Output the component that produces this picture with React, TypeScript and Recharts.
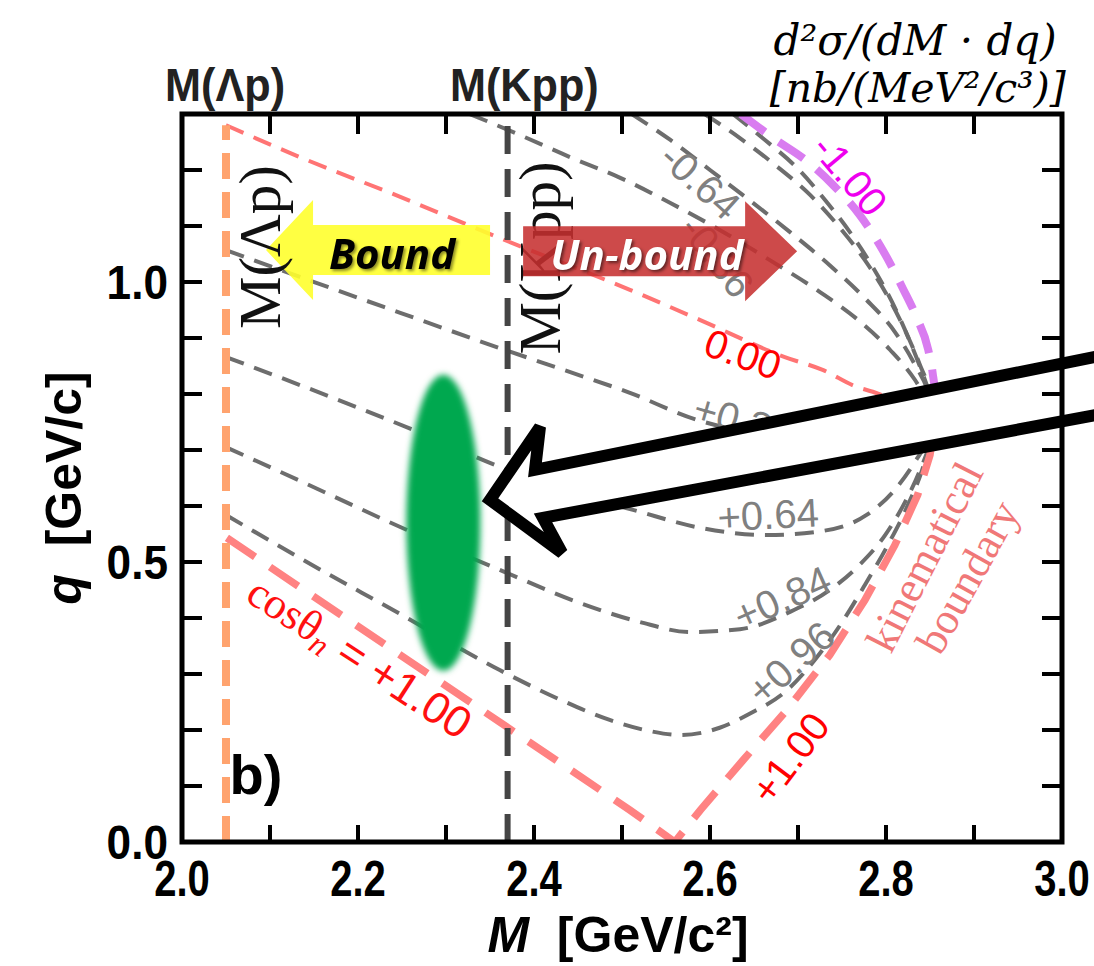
import React from 'react';
import {
  ComposedChart,
  Line,
  XAxis,
  YAxis,
  ReferenceArea,
  ReferenceDot,
  ReferenceLine,
} from 'recharts';

const CHART_W = 1094;
const CHART_H = 966;
const PLOT_W = 880;
const PLOT_H = 728;

const X_TICKS = [2.0, 2.1, 2.2, 2.3, 2.4, 2.5, 2.6, 2.7, 2.8, 2.9, 3.0];
const X_LABELS = ['2.0', '2.2', '2.4', '2.6', '2.8', '3.0'];
const Y_TICKS = [0, 0.1, 0.2, 0.3, 0.4, 0.5, 0.6, 0.7, 0.8, 0.9, 1.0, 1.1, 1.2];
const Y_LABELS = ['0.0', '0.5', '1.0'];

// thresholds (GeV/c^2)
const M_LAMBDA_P = 2.05;
const M_KPP = 2.37;
const Q_LAMBDA_P_TOP = 1.28;

// iso-cos(theta_n) contours, M in GeV/c^2, q in GeV/c
const P100_M = [2.051, 2.282, 2.509, 2.56, 2.589, 2.6375, 2.6875, 2.736, 2.776, 2.81, 2.836, 2.85, 2.856];
const P100_Q = [0.543, 0.298, 0.057, 0, 0.057, 0.146, 0.236, 0.334, 0.432, 0.53, 0.62, 0.691, 0.761];

const P096_M = [2.05, 2.134, 2.248, 2.361, 2.43, 2.486, 2.532, 2.566, 2.611, 2.645, 2.6875, 2.719, 2.748, 2.776, 2.802, 2.825, 2.841, 2.851, 2.856];
const P096_Q = [0.584, 0.507, 0.407, 0.307, 0.254, 0.218, 0.198, 0.191, 0.204, 0.229, 0.271, 0.325, 0.3875, 0.459, 0.53, 0.602, 0.664, 0.718, 0.761];

const P084_M = [2.05, 2.134, 2.248, 2.361, 2.452, 2.52, 2.577, 2.634, 2.691, 2.736, 2.77, 2.799, 2.8216, 2.8386, 2.85, 2.856];
const P084_Q = [0.705, 0.645, 0.5625, 0.486, 0.427, 0.393, 0.375, 0.38, 0.411, 0.45, 0.495, 0.548, 0.607, 0.664, 0.714, 0.761];

const P064_M = [2.05, 2.134, 2.2625, 2.361, 2.441, 2.5125, 2.589, 2.665, 2.7216, 2.778, 2.81, 2.833, 2.848, 2.856];
const P064_Q = [0.866, 0.816, 0.736, 0.67, 0.623, 0.593, 0.561, 0.548, 0.554, 0.584, 0.629, 0.679, 0.721, 0.761];

const P036_M = [2.05, 2.134, 2.248, 2.361, 2.43, 2.509, 2.585, 2.645, 2.702, 2.759, 2.81, 2.8386, 2.856];
const P036_Q = [1.057, 1.009, 0.945, 0.882, 0.845, 0.802, 0.754, 0.732, 0.725, 0.729, 0.743, 0.754, 0.761];

const Z000_M = [2.05, 2.134, 2.248, 2.361, 2.509, 2.589, 2.685, 2.728, 2.767, 2.785, 2.8216, 2.856];
const Z000_Q = [1.28, 1.223, 1.152, 1.0786, 0.986, 0.932, 0.866, 0.843, 0.8125, 0.804, 0.782, 0.761];

const M036_M = [2.327, 2.384, 2.441, 2.498, 2.555, 2.611, 2.668, 2.725, 2.77, 2.8045, 2.833, 2.856];
const M036_Q = [1.3, 1.2625, 1.223, 1.186, 1.141, 1.093, 1.039, 0.982, 0.93, 0.879, 0.825, 0.761];

const M064_M = [2.511, 2.555, 2.6, 2.645, 2.691, 2.736, 2.776, 2.81, 2.833, 2.848, 2.856];
const M064_Q = [1.3, 1.2536, 1.2, 1.146, 1.089, 1.03, 0.971, 0.911, 0.852, 0.804, 0.761];

const M084_M = [2.594, 2.634, 2.674, 2.714, 2.748, 2.776, 2.801, 2.8216, 2.8386, 2.85, 2.856];
const M084_Q = [1.3, 1.257, 1.209, 1.155, 1.096, 1.039, 0.977, 0.914, 0.852, 0.804, 0.761];

const M096_M = [2.626, 2.6625, 2.699, 2.731, 2.759, 2.784, 2.807, 2.825, 2.84, 2.85, 2.856];
const M096_Q = [1.3, 1.2536, 1.2036, 1.146, 1.089, 1.029, 0.964, 0.902, 0.843, 0.798, 0.761];

const M100_M = [2.635, 2.672, 2.71, 2.74, 2.77, 2.797, 2.819, 2.835, 2.848, 2.853, 2.8557, 2.856];
const M100_Q = [1.3, 1.257, 1.216, 1.173, 1.12, 1.055, 0.989, 0.936, 0.879, 0.8375, 0.798, 0.761];

const pts = (m: number[], q: number[]) => m.map((v, i) => ({ M: v, q: q[i] }));

const LINE_STYLES: Record<string, { stroke: string; width: number; dash: string }> = {
  grey: { stroke: '#6d6d6d', width: 4, dash: '19 11' },
  zero: { stroke: '#ff7474', width: 4, dash: '19 11' },
  plus1: { stroke: '#ff8282', width: 7.5, dash: '34 18' },
  minus1: { stroke: '#d97cf0', width: 8, dash: '30 17' },
};

const CURVES = [
  { id: 'p096', data: pts(P096_M, P096_Q), kind: 'grey', type: 'monotone' },
  { id: 'p084', data: pts(P084_M, P084_Q), kind: 'grey', type: 'monotone' },
  { id: 'p064', data: pts(P064_M, P064_Q), kind: 'grey', type: 'monotone' },
  { id: 'p036', data: pts(P036_M, P036_Q), kind: 'grey', type: 'monotone' },
  { id: 'm036', data: pts(M036_M, M036_Q), kind: 'grey', type: 'monotone' },
  { id: 'm064', data: pts(M064_M, M064_Q), kind: 'grey', type: 'monotone' },
  { id: 'm084', data: pts(M084_M, M084_Q), kind: 'grey', type: 'monotone' },
  { id: 'm096', data: pts(M096_M, M096_Q), kind: 'grey', type: 'monotone' },
  { id: 'z000', data: pts(Z000_M, Z000_Q), kind: 'zero', type: 'monotone' },
  { id: 'm100', data: pts(M100_M, M100_Q), kind: 'minus1', type: 'monotone' },
  { id: 'p100', data: pts(P100_M, P100_Q), kind: 'plus1', type: 'linear' },
];

// contour labels (placed in data coordinates)
const CONTOUR_LABELS = [
  { text: '-1.00', M: 2.759, q: 1.191, rot: 50, color: '#ee00ee' },
  { text: '-0.64', M: 2.589, q: 1.18, rot: 42, color: '#808080' },
  { text: '0.00', M: 2.6375, q: 0.871, rot: 20, color: '#ff0000' },
  { text: '+0.36', M: 2.638, q: 0.752, rot: 16, color: '#808080' },
  { text: '+0.64', M: 2.666, q: 0.584, rot: -3, color: '#808080' },
  { text: '+0.84', M: 2.682, q: 0.436, rot: -24, color: '#808080' },
  { text: '+0.96', M: 2.692, q: 0.32, rot: -42, color: '#808080' },
  { text: '+1.00', M: 2.691, q: 0.15, rot: -53, color: '#ff0000' },
];
const HIDDEN_LABEL = { text: '-0.36', M: 2.608, q: 1.046, rot: 52, color: '#808080' };

const SANS = '"Liberation Sans", Arial, sans-serif';
const SERIF = '"Liberation Serif", "Times New Roman", serif';

const textAt = (l: { text: string; rot: number; color: string }, size = 40) => (p: any) => (
  <text
    x={p.cx}
    y={p.cy}
    transform={`rotate(${l.rot} ${p.cx} ${p.cy})`}
    textAnchor="middle"
    dominantBaseline="central"
    fill={l.color}
    fontSize={size}
    fontFamily={SANS}
  >
    {l.text}
  </text>
);

const polyPoints = (cx: number, cy: number, offs: number[][]) =>
  offs.map(([dx, dy]) => `${cx + dx},${cy + dy}`).join(' ');

const BOUND_SHAPE = [[0, 0], [47, -50], [47, -25], [224, -25], [224, 25], [47, 25], [47, 50]];
const UNBOUND_SHAPE = [[0, 0], [-52, -50], [-52, -25], [-274, -25], [-274, 25], [-52, 25], [-52, 50]];
const POINTER_SHAPE = [[0, 0], [50, -73], [45, -30], [650, -152], [650, -93], [53, 18], [72, 53]];

const BoundArrow = (p: any) => (
  <g>
    <polygon points={polyPoints(p.cx, p.cy, BOUND_SHAPE)} fill="#ffff2e" fillOpacity={0.9} />
    <text
      x={p.cx + 126}
      y={p.cy + 2}
      textAnchor="middle"
      dominantBaseline="central"
      fontFamily='"Open Sans", sans-serif'
      fontWeight={700}
      fontStyle="italic"
      fontSize={42}
      fill="#000"
      style={{ filter: 'drop-shadow(2px 2px 1.5px rgba(0,0,0,0.45))' }}
    >
      Bound
    </text>
  </g>
);

const UnboundArrow = (p: any) => (
  <g>
    <polygon points={polyPoints(p.cx, p.cy, UNBOUND_SHAPE)} fill="#c62f2f" fillOpacity={0.87} />
    <text
      x={p.cx - 150}
      y={p.cy + 2}
      textAnchor="middle"
      dominantBaseline="central"
      fontFamily='"Open Sans", sans-serif'
      fontWeight={700}
      fontStyle="italic"
      fontSize={42}
      fill="#fff"
      style={{ filter: 'drop-shadow(2px 2px 1.5px rgba(0,0,0,0.5))' }}
    >
      Un-bound
    </text>
  </g>
);

const PointerArrow = (p: any) => (
  <polygon
    points={polyPoints(p.cx, p.cy, POINTER_SHAPE)}
    fill="#fff"
    stroke="#000"
    strokeWidth={12}
    strokeLinejoin="miter"
  />
);

const Blob = (p: any) => (
  <g>
    <defs>
      <filter id="blobBlur" x="-60%" y="-20%" width="220%" height="140%">
        <feGaussianBlur stdDeviation="3" />
      </filter>
    </defs>
    <ellipse cx={p.cx} cy={p.cy} rx={37} ry={148} fill="#00a84f" filter="url(#blobBlur)" />
  </g>
);

const VerticalSerif = (text: string) => (p: any) => (
  <text
    x={p.cx}
    y={p.cy}
    transform={`rotate(-90 ${p.cx} ${p.cy})`}
    textAnchor="middle"
    dominantBaseline="central"
    fontFamily={SERIF}
    fontSize={59}
    fill="#111"
  >
    {text}
  </text>
);

const CosLabel = (p: any) => (
  <text
    x={p.cx}
    y={p.cy}
    transform={`rotate(33 ${p.cx} ${p.cy})`}
    textAnchor="middle"
    dominantBaseline="central"
    fill="#ff1010"
    fontSize={44}
  >
    <tspan fontFamily={SERIF}>cosθ</tspan>
    <tspan fontFamily={SERIF} fontStyle="italic" fontSize={32} dy={11}>n</tspan>
    <tspan fontFamily={SANS} dy={-11}>{'\u00a0=\u00a0+1.00'}</tspan>
  </text>
);

const KinLabel = (text: string, rot: number) => (p: any) => (
  <text
    x={p.cx}
    y={p.cy}
    transform={`rotate(${rot} ${p.cx} ${p.cy})`}
    textAnchor="middle"
    dominantBaseline="central"
    fill="#f07878"
    fontFamily={SERIF}
    fontSize={44}
  >
    {text}
  </text>
);

const PanelLabel = (p: any) => (
  <text x={p.cx} y={p.cy} textAnchor="middle" dominantBaseline="central" fontFamily={SANS} fontWeight={700} fontSize={56} fill="#000">
    b)
  </text>
);

const TopLabel = (text: string) => (p: any) => (
  <text
    transform={`translate(${p.cx},${p.cy}) scale(0.92,1)`}
    textAnchor="middle"
    dominantBaseline="central"
    fontFamily={SANS}
    fontWeight={700}
    fontSize={47}
    fill="#222"
  >
    {text}
  </text>
);

const UnitLine1 = (p: any) => (
  <text x={p.cx} y={p.cy} textAnchor="middle" dominantBaseline="central" fontFamily='"DejaVu Serif", serif' fontStyle="italic" fontSize={42} fill="#000">
    {'d²σ/(dM · dq)'}
  </text>
);

const UnitLine2 = (p: any) => (
  <text x={p.cx} y={p.cy} textAnchor="middle" dominantBaseline="central" fontFamily='"DejaVu Serif", serif' fontStyle="italic" fontSize={41} fill="#000">
    {'[nb/(MeV²/c³)]'}
  </text>
);

const XTick = (props: any) => {
  const { x, y, payload } = props;
  const lbl = Number(payload.value).toFixed(1);
  return (
    <g>
      <line x1={x} y1={y} x2={x} y2={y - 17} stroke="#000" strokeWidth={4} />
      <line x1={x} y1={y - PLOT_H} x2={x} y2={y - PLOT_H + 20} stroke="#000" strokeWidth={4} />
      {X_LABELS.includes(lbl) && (
        <text
          transform={`translate(${x},${y + 54}) scale(0.8,1)`}
          textAnchor="middle"
          fontFamily={SANS}
          fontWeight={700}
          fontSize={50}
          fill="#000"
        >
          {lbl}
        </text>
      )}
    </g>
  );
};

const YTick = (props: any) => {
  const { x, y, payload } = props;
  const lbl = Number(payload.value).toFixed(1);
  return (
    <g>
      <line x1={x} y1={y} x2={x + 20} y2={y} stroke="#000" strokeWidth={4} />
      <line x1={x + PLOT_W} y1={y} x2={x + PLOT_W - 20} y2={y} stroke="#000" strokeWidth={4} />
      {Y_LABELS.includes(lbl) && (
        <text
          transform={`translate(${x - 14},${y + 17}) scale(0.92,1)`}
          textAnchor="end"
          fontFamily={SANS}
          fontWeight={700}
          fontSize={48}
          fill="#000"
        >
          {lbl}
        </text>
      )}
    </g>
  );
};

const XTitle = (props: any) => {
  const vb = props.viewBox || { x: 182, y: 842, width: PLOT_W };
  return (
    <text x={vb.x + vb.width / 2 - 4} y={vb.y + 110} textAnchor="middle" fontFamily={SANS} fontWeight={700} fontSize={50} fill="#000">
      <tspan fontStyle="italic">M</tspan>
      <tspan>{'\u00a0\u00a0[GeV/c²]'}</tspan>
    </text>
  );
};

const YTitle = (props: any) => {
  const vb = props.viewBox || { x: 92, y: 114, height: PLOT_H };
  const cx = 64;
  const cy = vb.y + vb.height / 2 + 10;
  return (
    <text
      x={cx}
      y={cy}
      transform={`rotate(-90 ${cx} ${cy})`}
      textAnchor="middle"
      dominantBaseline="central"
      fontFamily={SANS}
      fontWeight={700}
      fontSize={50}
      fill="#000"
    >
      <tspan fontStyle="italic">q</tspan>
      <tspan>{'\u00a0\u00a0[GeV/c]'}</tspan>
    </text>
  );
};

export default function App() {
  return (
    <div style={{ width: CHART_W, height: CHART_H, background: '#fff' }}>
      <style>{'body{margin:0;overflow:hidden;background:#fff}'}</style>
      <ComposedChart
        width={CHART_W}
        height={CHART_H}
        margin={{ top: 114, right: 32, bottom: 14, left: 92 }}
      >
        <XAxis
          type="number"
          dataKey="M"
          domain={[2, 3]}
          ticks={X_TICKS}
          interval={0}
          allowDataOverflow
          height={110}
          axisLine={false}
          tickLine={false}
          tickSize={0}
          tickMargin={0}
          tick={<XTick />}
          label={<XTitle />}
        />
        <YAxis
          type="number"
          domain={[0, 1.3]}
          ticks={Y_TICKS}
          interval={0}
          allowDataOverflow
          width={90}
          axisLine={false}
          tickLine={false}
          tickSize={0}
          tickMargin={0}
          tick={<YTick />}
          label={<YTitle />}
        />

        {CURVES.map((c) => {
          const s = LINE_STYLES[c.kind];
          return (
            <Line
              key={c.id}
              data={c.data}
              dataKey="q"
              type={c.type as any}
              stroke={s.stroke}
              strokeWidth={s.width}
              strokeDasharray={s.dash}
              dot={false}
              activeDot={false}
              isAnimationActive={false}
            />
          );
        })}

        <ReferenceLine
          segment={[{ x: M_LAMBDA_P, y: 0 }, { x: M_LAMBDA_P, y: Q_LAMBDA_P_TOP }]}
          stroke="#ffa36e"
          strokeWidth={8}
          strokeDasharray="26 13"
          zIndex={450}
        />
        <ReferenceLine x={M_KPP} stroke="#454545" strokeWidth={6} strokeDasharray="28 15" zIndex={450} />

        {CONTOUR_LABELS.map((l) => (
          <ReferenceDot key={l.text} x={l.M} y={l.q} r={0} shape={textAt(l)} zIndex={700} />
        ))}
        <ReferenceDot x={2.844} y={0.509} r={0} shape={KinLabel('kinematical', -63)} zIndex={700} />
        <ReferenceDot x={2.893} y={0.473} r={0} shape={KinLabel('boundary', -61)} zIndex={700} />
        <ReferenceDot x={2.202} y={0.33} r={0} shape={CosLabel} zIndex={700} />
        <ReferenceDot x={2.084} y={0.12} r={0} shape={PanelLabel} zIndex={700} />

        <ReferenceDot x={2.297} y={0.57} r={0} shape={Blob} zIndex={720} />

        <ReferenceDot x={2.0955} y={1.057} r={0} shape={BoundArrow} zIndex={730} />
        <ReferenceDot x={2.089} y={1.0625} r={0} shape={VerticalSerif('M(Λp)')} zIndex={740} />
        <ReferenceDot x={2.407} y={1.043} r={0} shape={VerticalSerif('M(Kpp)')} zIndex={740} />
        <ReferenceDot x={HIDDEN_LABEL.M} y={HIDDEN_LABEL.q} r={0} shape={textAt(HIDDEN_LABEL)} zIndex={745} />
        <ReferenceDot x={2.699} y={1.055} r={0} shape={UnboundArrow} zIndex={750} />

        <ReferenceDot x={2.35} y={0.611} r={0} shape={PointerArrow} zIndex={900} />

        <ReferenceDot x={2.049} y={1.352} r={0} ifOverflow="visible" shape={TopLabel('M(Λp)')} zIndex={900} />
        <ReferenceDot x={2.389} y={1.352} r={0} ifOverflow="visible" shape={TopLabel('M(Kpp)')} zIndex={900} />
        <ReferenceDot x={2.833} y={1.432} r={0} ifOverflow="visible" shape={UnitLine1} zIndex={900} />
        <ReferenceDot x={2.836} y={1.346} r={0} ifOverflow="visible" shape={UnitLine2} zIndex={900} />

        <ReferenceArea
          x1={2}
          x2={3}
          y1={0}
          y2={1.3}
          fill="none"
          fillOpacity={0}
          stroke="#000"
          strokeWidth={5}
          zIndex={1000}
        />
      </ComposedChart>
    </div>
  );
}
